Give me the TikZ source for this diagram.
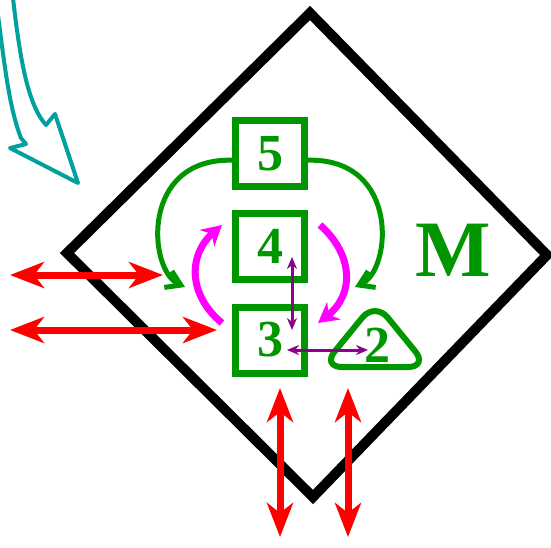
\documentclass[tikz,border=0pt]{standalone}
\usepackage{fontspec}
\setmainfont{Liberation Serif}
\usetikzlibrary{arrows.meta}
\definecolor{mgreen}{RGB}{0,150,0}
\definecolor{mteal}{RGB}{0,160,158}
\definecolor{mpurple}{RGB}{140,0,140}
\definecolor{mpink}{RGB}{255,0,255}

\begin{document}
\begin{tikzpicture}[x=0.5pt,y=-0.5pt,
  box/.style={draw=mgreen, line width=3.5pt, text=mgreen, minimum width=34.5pt, minimum height=33pt, inner sep=0pt, font=\fontsize{26}{26}\selectfont\bfseries},
  num/.style={text=mgreen, inner sep=0pt, font=\fontsize{26}{26}\selectfont\bfseries},
  loop/.style={mgreen, line width=2.5pt, -{Straight Barb[length=7pt,width=9pt]}},
  swap/.style={mpink, line width=3.5pt, -{Stealth[length=10pt,width=11pt]}},
  link/.style={mpurple, line width=1.5pt, {Stealth[length=6pt,width=5pt]}-{Stealth[length=6pt,width=5pt]}},
  flow/.style={red, line width=3.5pt, {Stealth[length=17pt,width=13pt,inset=5pt]}-{Stealth[length=17pt,width=13pt,inset=5pt]}}]

\useasboundingbox (0,0) rectangle (551,547);

% the module
\draw[line width=5pt] (310,13) -- (547,255) -- (313,497) -- (67,253) -- cycle;
\node[text=mgreen, font=\fontsize{40}{40}\selectfont\bfseries] (M) at (453,250) {M};

% the blocks
\node[box] (b5) at (270,153.5) {5};
\node[box] (b4) at (270,246.5) {4};
\node[box] (b3) at (270,340) {3};
\node[num] (n2) at (377,345) {2};
\draw[mgreen, line width=3pt, rounded corners=10pt] (322,367) -- (375,302) -- (428,367) -- cycle;

% loops from 5
\coordinate (gl) at (185,287);
\coordinate (gr) at (355,287);
\draw[loop] (b5.190) .. controls (140,158) and (148,270) .. (gl);
\draw[loop] (b5.350) .. controls (400,158) and (392,270) .. (gr);

% exchange between 3 and 4
\coordinate (ml3) at (222,323);
\coordinate (ml4) at (222,225);
\coordinate (mr4) at (320,225);
\coordinate (mr3) at (318,323);
\draw[swap] (ml3) .. controls (188,295) and (188,255) .. (ml4);
\draw[swap] (mr4) .. controls (354,255) and (354,295) .. (mr3);

% inner links
\coordinate (p4) at (292,257);
\coordinate (p3) at (292,330);
\coordinate (q3) at (287,350);
\coordinate (q2) at (368,350);
\draw[link] (p4) -- (p3);
\draw[link] (q3) -- (q2);

% outer flows
\coordinate (L1) at (10,275);
\coordinate (R1) at (163,275);
\coordinate (L2) at (10,330);
\coordinate (R2) at (217,330);
\coordinate (T1) at (280,388);
\coordinate (B1) at (280,537);
\coordinate (T2) at (348,388);
\coordinate (B2) at (348,537);
\draw[flow] (L1) -- (R1);
\draw[flow] (L2) -- (R2);
\draw[flow] (T1) -- (B1);
\draw[flow] (T2) -- (B2);

% incoming
\draw[mteal, line width=2pt, line join=round] (13,-2) .. controls (20,60) and (28,105) .. (46,125) -- (55,114) -- (78,183) -- (10,148) -- (26,144) -- (21,138) .. controls (10,110) and (5,70) .. (-2,15);
\end{tikzpicture}
\end{document}
